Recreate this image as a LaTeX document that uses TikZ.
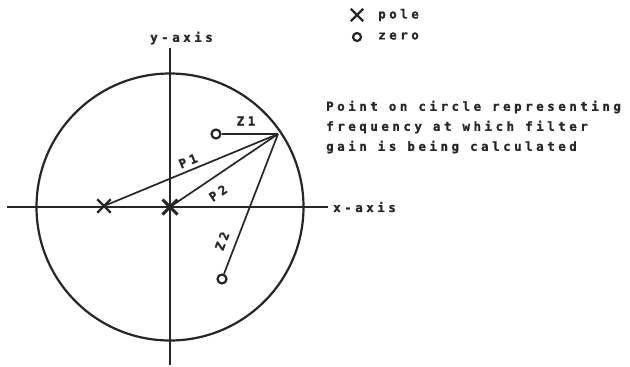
\documentclass[tikz,border=0pt]{standalone}
\usepackage{fontspec}
\setmainfont{DejaVu Sans}
\newfontfamily\lblfont{DejaVu Sans Mono}[LetterSpace=28, BoldFeatures={FakeBold=1.2}]
\usetikzlibrary{shapes.misc}
\begin{document}
\begin{tikzpicture}[x=1pt,y=-1pt,
  ax/.style={line width=1.7pt, black!85},
  ray/.style={line width=1.7pt, black!85},
  polemark/.style={cross out, draw=black!85, line width=2.4pt, minimum size=11pt, inner sep=0pt},
  zeromark/.style={circle, draw=black!85, line width=2.2pt, minimum size=9pt, inner sep=0pt},
  lbl/.style={font=\lblfont\bfseries\fontsize{12.5}{14}\selectfont, text=black!85, inner sep=0pt},
]
\useasboundingbox (0,0) rectangle (630,367);
% circle and axes
\coordinate (o) at (170,207);
\draw[line width=2.2pt, black!85] (o) circle (133.5);
\coordinate (xl) at (7,207);
\coordinate (xr) at (328,207);
\coordinate (yt) at (170,48);
\coordinate (yb) at (170,365);
\draw[ax] (xl) -- (xr);
\draw[ax] (yt) -- (yb);
% point on circle
\coordinate (pt) at (278,134);
% poles and zeros
\node[polemark] (p1) at (104,206) {};
\node[polemark, minimum size=12pt, line width=3pt] (p2) at (170,207) {};
\node[zeromark] (z1) at (216,134) {};
\node[zeromark] (z2) at (222,279) {};
% rays
\draw[ray] (pt) -- (p1.center);
\draw[ray] (pt) -- (p2.center);
\draw[ray] (pt) -- (z1);
\draw[ray] (pt) -- (z2);
% ray labels
\node[lbl] (lz1) at (246,121) {Z1};
\node[lbl, rotate=22.5] (lp1) at (188,161) {P1};
\node[lbl, rotate=34] (lp2) at (218,193) {P2};
\node[lbl, rotate=69] (lz2) at (222,241) {Z2};
% axis labels
\node[lbl, anchor=west] (ylab) at (150,38) {y-axis};
\node[lbl, anchor=west] (xlab) at (333,207) {x-axis};
% legend
\node[polemark, minimum size=10pt] (legp) at (357,15) {};
\node[lbl, anchor=west] (legpt) at (378,15) {pole};
\node[zeromark, minimum size=8pt] (legz) at (357,37) {};
\node[lbl, anchor=west] (legzt) at (378,36) {zero};
% annotation
\node[lbl, anchor=west] (t1) at (326,107) {Point on circle representing};
\node[lbl, anchor=west] (t2) at (326,127) {frequency at which filter};
\node[lbl, anchor=west] (t3) at (326,147) {gain is being calculated};
\end{tikzpicture}
\end{document}
